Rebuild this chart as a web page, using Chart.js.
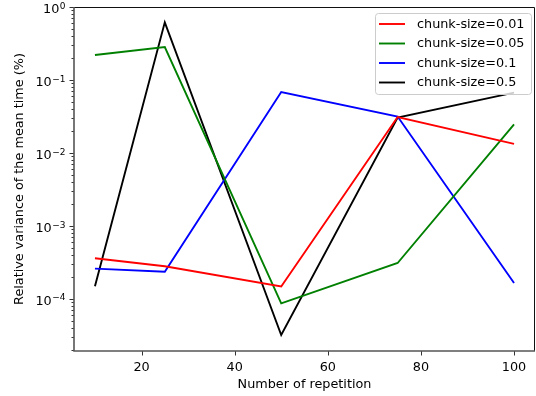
<!DOCTYPE html>
<html>
<head>
<meta charset="utf-8">
<script src="https://cdn.jsdelivr.net/npm/chart.js@4/dist/chart.umd.min.js"></script>
<style>
  html, body { margin: 0; padding: 0; background: #fff; }
  #wrap { width: 536px; height: 396px; }
</style>
</head>
<body>
<div id="wrap"><canvas id="myChart"></canvas></div>
<script>
// values
const repetitions = [10, 25, 50, 75, 100];
const chunk001 = [3.6e-4, 2.8e-4, 1.48e-4, 0.031, 0.0133];
const chunk005 = [0.22, 0.283, 8.7e-5, 3.1e-4, 0.0247];
const chunk01 = [2.6e-4, 2.35e-4, 0.0685, 0.0315, 1.65e-4];
const chunk05 = [1.49e-4, 0.617, 3.2e-5, 0.0305, 0.067];

const seriesNames = ['chunk-size=0.01', 'chunk-size=0.05', 'chunk-size=0.1', 'chunk-size=0.5'];
const seriesColors = ['#ff0000', '#008000', '#0000ff', '#000000'];
const xTicks = [20, 40, 60, 80, 100];
const yMajor = [1e-4, 1e-3, 1e-2, 1e-1, 1];

const FONT = 'DejaVu Sans';
const FS = 12.8;

function toPoints(ys) {
    return ys.map((y, i) => ({x: repetitions[i], y: y}));
}

function isMajor(v) {
    return yMajor.some(m => Math.abs(m - v) / m < 1e-6);
}

// all log ticks (major + minor) inside the range
let yAll = [];
for (let e = -5; e <= 0; e++) {
    for (let k = 1; k <= 9; k++) {
        let v = k * Math.pow(10, e);
        if (v >= 1.93e-5 && v <= 1.0000001) yAll.push(v);
    }
}

const frameAndLegend = {
    id: 'frameAndLegend',
    afterDraw(chart) {
        const ctx = chart.ctx;
        const a = chart.chartArea;
        const xs = chart.scales.x, ys = chart.scales.y;
        const L = Math.round(a.left), R = Math.round(a.right);
        const T = Math.round(a.top), B = Math.round(a.bottom);
        ctx.save();
        // tick marks
        ctx.strokeStyle = '#333';
        ctx.lineWidth = 1;
        ctx.beginPath();
        for (let v of xTicks) {
            let px = Math.round(xs.getPixelForValue(v)) + 0.5;
            ctx.moveTo(px, B);
            ctx.lineTo(px, B + 4.5);
        }
        for (let v of yAll) {
            let py = Math.round(ys.getPixelForValue(v)) + 0.5;
            ctx.moveTo(L, py);
            ctx.lineTo(L - (isMajor(v) ? 4.5 : 2.5), py);
        }
        ctx.stroke();

        // y labels as 10 with a raised exponent
        ctx.fillStyle = '#000';
        ctx.textAlign = 'left';
        ctx.textBaseline = 'alphabetic';
        for (let v of yMajor) {
            let py = ys.getPixelForValue(v);
            let e = Math.round(Math.log10(v));
            let expText = e < 0 ? '\u2212' + (-e) : String(e);
            ctx.font = '9px "' + FONT + '"';
            let w2 = ctx.measureText(expText).width;
            ctx.font = FS + 'px "' + FONT + '"';
            let w1 = ctx.measureText('10').width;
            let x0 = 65 - w2 - w1;
            ctx.fillText('10', x0, py + 6.3);
            ctx.font = '9px "' + FONT + '"';
            ctx.fillText(expText, x0 + w1 + 0.5, py + 1.6);
        }

        // frame: top/right crisp, left/bottom a bit softer like the reference
        ctx.strokeStyle = '#111';
        ctx.lineWidth = 1;
        ctx.beginPath();
        ctx.moveTo(L, T + 0.5);
        ctx.lineTo(R - 0.5, T + 0.5);
        ctx.lineTo(R - 0.5, B);
        ctx.stroke();
        ctx.strokeStyle = '#555';
        ctx.lineWidth = 1.6;
        ctx.beginPath();
        ctx.moveTo(L, T);
        ctx.lineTo(L, B);
        ctx.lineTo(R, B);
        ctx.stroke();

        // legend box
        const bx = 375.5, by = 13.5, bw = 156, bh = 81, r = 3;
        ctx.beginPath();
        ctx.moveTo(bx + r, by);
        ctx.arcTo(bx + bw, by, bx + bw, by + bh, r);
        ctx.arcTo(bx + bw, by + bh, bx, by + bh, r);
        ctx.arcTo(bx, by + bh, bx, by, r);
        ctx.arcTo(bx, by, bx + bw, by, r);
        ctx.closePath();
        ctx.fillStyle = 'rgba(255,255,255,0.8)';
        ctx.fill();
        ctx.strokeStyle = '#cccccc';
        ctx.lineWidth = 1;
        ctx.stroke();

        ctx.font = FS + 'px "' + FONT + '"';
        ctx.textBaseline = 'middle';
        ctx.textAlign = 'left';
        const rowY = [24, 43.5, 63, 82.5];
        seriesNames.forEach((name, i) => {
            ctx.strokeStyle = seriesColors[i];
            ctx.lineWidth = 1.9;
            ctx.beginPath();
            ctx.moveTo(379, rowY[i]);
            ctx.lineTo(405, rowY[i]);
            ctx.stroke();
            ctx.fillStyle = '#000';
            ctx.fillText(name, 417, rowY[i] + 0.5);
        });
        ctx.restore();
    }
};

const datasets = [chunk001, chunk005, chunk01, chunk05].map((ys, i) => ({
    label: seriesNames[i],
    data: toPoints(ys),
    borderColor: seriesColors[i],
    backgroundColor: seriesColors[i],
    borderWidth: 1.9,
    pointRadius: 0,
    tension: 0,
    fill: false,
}));

const config = {
    type: 'line',
    data: {datasets: datasets},
    options: {
        responsive: true,
        maintainAspectRatio: false,
        animation: false,
        layout: {padding: {top: 7, right: 1, left: 0, bottom: 0}},
        plugins: {
            legend: {display: false},
            tooltip: {enabled: false},
        },
        scales: {
            x: {
                type: 'linear',
                min: 5.5,
                max: 104.5,
                grid: {display: false, drawTicks: false},
                border: {display: false},
                afterBuildTicks: axis => { axis.ticks = xTicks.map(v => ({value: v})); },
                afterFit: axis => {
                    axis.height = 45;
                    axis.paddingLeft = 0;
                    axis.paddingRight = 0;
                },
                ticks: {
                    color: '#000',
                    padding: 9,
                    font: {family: FONT, size: FS},
                },
                title: {
                    display: true,
                    text: 'Number of repetition',
                    color: '#000',
                    font: {family: FONT, size: FS},
                    padding: {top: 4, bottom: 4},
                },
            },
            y: {
                type: 'logarithmic',
                min: 1.93e-5,
                max: 1,
                grid: {display: false, drawTicks: false},
                border: {display: false},
                afterBuildTicks: axis => { axis.ticks = yAll.map(v => ({value: v})); },
                afterFit: axis => {
                    axis.width = 74;
                    axis.paddingTop = 0;
                    axis.paddingBottom = 0;
                },
                ticks: {
                    // labels are drawn by the plugin with a raised exponent
                    display: true,
                    padding: 10,
                    autoSkip: false,
                    font: {family: FONT, size: FS},
                    callback: () => '',
                },
                title: {
                    display: true,
                    text: 'Relative variance of the mean time (%)',
                    color: '#000',
                    font: {family: FONT, size: FS},
                    padding: {top: 12, bottom: 12},
                },
            },
        },
    },
    plugins: [frameAndLegend],
};

const myChart = new Chart(document.getElementById('myChart'), config);
</script>
</body>
</html>
